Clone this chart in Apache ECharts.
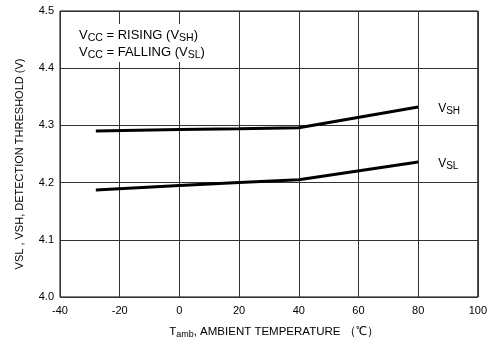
<!DOCTYPE html>
<html><head><meta charset="utf-8">
<script src="https://cdn.jsdelivr.net/npm/echarts@6/dist/echarts.min.js"></script>
<style>html,body{margin:0;padding:0;background:#fff}#c{width:490px;height:347px}</style>
</head><body><div id="c"></div>
<script>
var temps = [-28, 0, 20, 40, 80];
var vsh = [4.290, 4.293, 4.294, 4.296, 4.332];
var vsl = [4.187, 4.195, 4.200, 4.205, 4.236];
var xTicks = [-40, -20, 0, 20, 40, 60, 80, 100];
var yTicks = [4.0, 4.1, 4.2, 4.3, 4.4, 4.5];

var F = 'Liberation Sans, Arial, sans-serif';
function mkRich(main, sub, pad) {
  return {
    b: {fontFamily: F, fontSize: main, color: '#000'},
    s: {fontFamily: F, fontSize: sub, color: '#000', verticalAlign: 'bottom', padding: [pad, 0, 0, 0]}
  };
}
var richLegend = mkRich(13, 10.5, 5);
var richAxis = mkRich(11.5, 9, 5);
var richEnd = mkRich(12, 10, 5);
function pairs(a, b) { return a.map(function (v, i) { return [v, b[i]]; }); }
var chart = echarts.init(document.getElementById('c'));
chart.setOption({
  animation: false,
  grid: {left: 60, right: 8, top: 11, bottom: 50, show: true, borderColor: '#000', borderWidth: 1},
  xAxis: {
    type: 'value', min: -40, max: 100, interval: 20,
    axisLine: {show: false}, axisTick: {show: false},
    splitLine: {show: true, lineStyle: {color: '#333', width: 1}},
    axisLabel: {fontFamily: F, fontSize: 11, color: '#000', margin: 8},
    name: '{b|T}{s|amb}{b|, AMBIENT TEMPERATURE （℃）}',
    nameLocation: 'middle', nameGap: 28,
    nameTextStyle: {rich: richAxis, padding: [0, 0, 0, 10]}
  },
  yAxis: {
    type: 'value', min: 4.0, max: 4.5, interval: 0.1,
    axisLine: {show: false}, axisTick: {show: false},
    splitLine: {show: true, lineStyle: {color: '#333', width: 1}},
    axisLabel: {fontFamily: F, fontSize: 11, color: '#000', margin: 6, formatter: function (v) { return v.toFixed(1); }}
  },
  graphic: [
    {type: 'text', x: 20, y: 164, rotation: Math.PI / 2, z: 10,
     style: {text: 'VSL , VSH, DETECTION THRESHOLD (V)', fontFamily: F, fontSize: 11, fill: '#000', align: 'center', verticalAlign: 'middle'}},
    {type: 'rect', z: 10, shape: {x: 74, y: 24, width: 138, height: 38}, style: {fill: '#fff'}},
    {type: 'text', left: 79, top: 29, z: 11, style: {text: '{b|V}{s|CC}{b| = RISING (V}{s|SH}{b|)}', rich: richLegend}},
    {type: 'text', left: 79, top: 46, z: 11, style: {text: '{b|V}{s|CC}{b| = FALLING (V}{s|SL}{b|)}', rich: richLegend}}
  ],
  series: [
    {type: 'line', data: pairs(temps, vsh), symbol: 'none', lineStyle: {color: '#000', width: 3},
     endLabel: {show: true, formatter: '{b|V}{s|SH}', rich: richEnd, offset: [12, 2]}},
    {type: 'line', data: pairs(temps, vsl), symbol: 'none', lineStyle: {color: '#000', width: 3},
     endLabel: {show: true, formatter: '{b|V}{s|SL}', rich: richEnd, offset: [12, 2]}}
  ]
});
</script></body></html>
